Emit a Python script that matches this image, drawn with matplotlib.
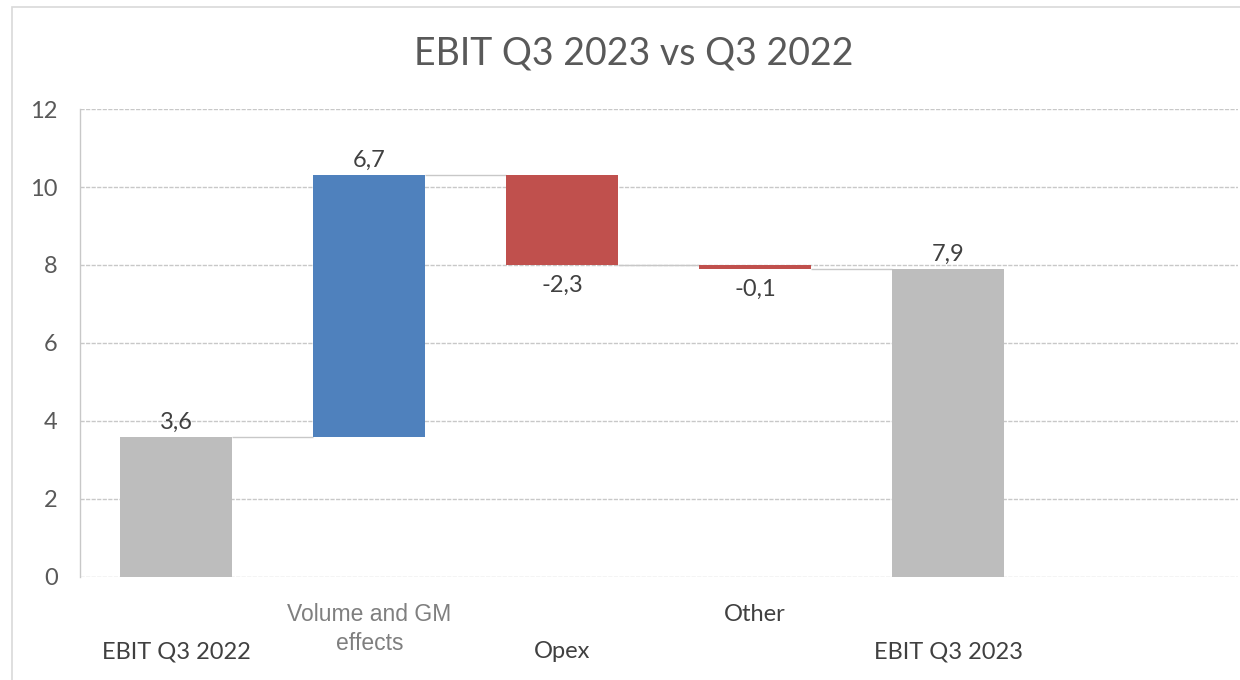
import matplotlib.pyplot as plt
from matplotlib.patches import Rectangle

categories = ['EBIT Q3 2022', 'Volume and GM\neffects', 'Opex', 'Other', 'EBIT Q3 2023']
values = [3.6, 6.7, -2.3, -0.1, 7.9]
kinds = ['total', 'delta', 'delta', 'delta', 'total']

fig = plt.figure(figsize=(12.4, 6.8), dpi=100)
ax = fig.add_axes([0.0645, 0.1515, 0.9335, 0.6882])

# outer chart frame
fig.patches.append(Rectangle((0.0097, -0.01), 1.0, 1.0 - 0.0103 + 0.01, transform=fig.transFigure,
                             fill=False, edgecolor='#d9d9d9', lw=1.2))

bar_w = 0.58
level = 0
bottoms, tops = [], []
for v, k in zip(values, kinds):
    if k == 'total':
        b, t = 0, v
        level = v
    else:
        b, t = level, level + v
        level = level + v
    bottoms.append(min(b, t))
    tops.append(max(b, t))

colors = []
for v, k in zip(values, kinds):
    if k == 'total':
        colors.append('#bdbdbd')
    elif v >= 0:
        colors.append('#4f81bd')
    else:
        colors.append('#c0504d')

x = list(range(len(categories)))
heights = [t - b for b, t in zip(bottoms, tops)]
ax.bar(x, heights, bar_w, bottom=bottoms, color=colors, zorder=3)

# connectors between bars
running = 0
ends = []
for v, k in zip(values, kinds):
    running = v if k == 'total' else running + v
    ends.append(running)
for i in range(len(values) - 1):
    ax.hlines(ends[i], x[i] + bar_w / 2, x[i + 1] - bar_w / 2, color='#c8c8c8', lw=1, zorder=2)

# value labels
for i, (v, k) in enumerate(zip(values, kinds)):
    txt = f'{v:.1f}'.replace('.', ',')
    if v >= 0:
        ax.annotate(txt, (x[i], tops[i]), xytext=(0, 3), textcoords='offset points',
                    ha='center', va='bottom', fontsize=17, color='#404040', family='Lato')
    else:
        ax.annotate(txt, (x[i], bottoms[i]), xytext=(0, -7), textcoords='offset points',
                    ha='center', va='top', fontsize=17, color='#404040', family='Lato')

ax.set_xlim(-0.5, 5.5)
ax.set_ylim(0, 12)
ax.set_yticks(range(0, 13, 2))
ax.set_xticks([])
ax.tick_params(axis='y', length=0, pad=16, labelsize=17, labelcolor='#595959')
for lab in ax.get_yticklabels():
    lab.set_family('Lato')

ax.grid(axis='y', color='#c8c8c8', linestyle=(0, (3, 1)), lw=1, zorder=0)
for s in ['top', 'right', 'bottom']:
    ax.spines[s].set_visible(False)
ax.spines['left'].set_color('#c8c8c8')
ax.spines['left'].set_linestyle((0, (3, 1)))
ax.spines['left'].set_linewidth(1)

# staggered category labels
label_y = [-0.160, -0.111, -0.160, -0.081, -0.160]
label_font = ['Lato', 'Liberation Sans', 'Lato', 'Lato', 'Lato']
label_col = ['#404040', '#7f7f7f', '#404040', '#404040', '#404040']
label_size = [17, 16.5, 17, 17, 17]
trans = ax.get_xaxis_transform()
for i, c in enumerate(categories):
    ax.text(x[i], label_y[i], c, transform=trans, ha='center', va='center',
            fontsize=label_size[i], family=label_font[i], color=label_col[i], linespacing=1.35)

fig.text(0.511, 0.922, 'EBIT Q3 2023 vs Q3 2022', ha='center', va='center',
         fontsize=27, family='Lato', color='#595959')

fig.savefig('out.png', dpi=100)
